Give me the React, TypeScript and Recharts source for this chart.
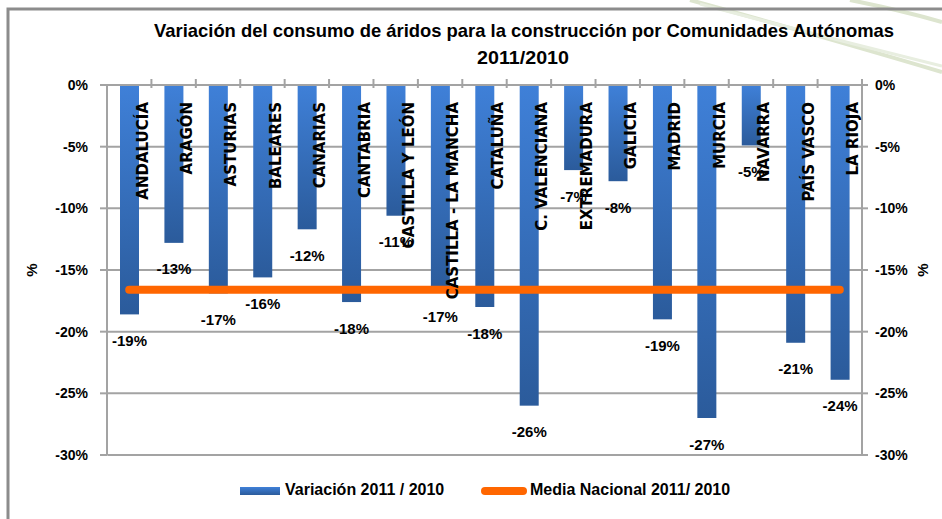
import { Bar, ComposedChart, LabelList, Line, XAxis, YAxis } from 'recharts';

const categories = [
  'ANDALUCÍA',
  'ARAGÓN',
  'ASTURIAS',
  'BALEARES',
  'CANARIAS',
  'CANTABRIA',
  'CASTILLA Y LEÓN',
  'CASTILLA - LA MANCHA',
  'CATALUÑA',
  'C. VALENCIANA',
  'EXTREMADURA',
  'GALICIA',
  'MADRID',
  'MURCIA',
  'NAVARRA',
  'PAÍS VASCO',
  'LA RIOJA',
];
const variacion = [-18.6, -12.8, -16.9, -15.6, -11.7, -17.6, -10.6, -16.7, -18.0, -26.0, -6.9, -7.8, -19.0, -27.0, -4.9, -20.9, -23.9];
const mediaNacional = [-16.6, -16.6, -16.6, -16.6, -16.6, -16.6, -16.6, -16.6, -16.6, -16.6, -16.6, -16.6, -16.6, -16.6, -16.6, -16.6, -16.6];
const yTicks = [0, -5, -10, -15, -20, -25, -30];

const data = categories.map((name, i) => ({
  name,
  variacion: variacion[i],
  media: mediaNacional[i],
}));

const FONT = '"Liberation Sans", Arial, sans-serif';
const GRID = '#a3a3a3';
const PLOT_W = 755;
const BAND = PLOT_W / categories.length;

function CategoryTick(props: any) {
  const { x, y, payload } = props;
  const half = payload && payload.offset ? payload.offset : BAND / 2;
  return (
    <line x1={x + half} y1={y - 6} x2={x + half} y2={y + 3} stroke={GRID} strokeWidth={2} />
  );
}

// bar shape; the first bar also lays the horizontal gridlines underneath all bars,
// placed with the bar's own value-to-pixel ratio
function BarShape(props: any) {
  const { x, y, width, height, fill, payload } = props;
  const top = Math.min(y, y + height);
  const bottom = Math.max(y, y + height);
  const isFirst = payload && payload.name === categories[0];
  let grid = null;
  if (isFirst && payload.variacion) {
    const perUnit = (bottom - top) / Math.abs(payload.variacion);
    const left = x + width / 2 - BAND / 2;
    grid = yTicks.map((t) => {
      const ly = top + Math.abs(t) * perUnit;
      return <line key={t} x1={left} y1={ly} x2={left + PLOT_W} y2={ly} stroke={GRID} strokeWidth={2} />;
    });
  }
  return (
    <g>
      {grid}
      <rect x={x} y={top} width={width} height={bottom - top} fill={fill} />
    </g>
  );
}

function NameLabel(props: any) {
  const { x, y, width, height, value } = props;
  const cx = x + width / 2;
  const top = Math.min(y, y + height);
  return (
    <text
      transform={`translate(${cx + 18},${top + 17}) rotate(-90)`}
      textAnchor="end"
      fontFamily='"DejaVu Sans", sans-serif'
      fontWeight="bold"
      fontSize={15}
      fill="#000"
    >
      {value}
    </text>
  );
}

function ValueLabel(props: any) {
  const { x, y, width, height, value } = props;
  const cx = x + width / 2;
  const bottom = Math.max(y, y + height);
  return (
    <text
      x={cx}
      y={bottom + 26}
      textAnchor="middle"
      dominantBaseline="central"
      fontFamily={FONT}
      fontWeight="bold"
      fontSize={15}
      fill="#000"
    >
      {Math.round(value)}%
    </text>
  );
}

function UnitLabel(props: any) {
  const { viewBox, dx } = props;
  const cx = viewBox.x + dx;
  const cy = viewBox.y + viewBox.height / 2;
  return (
    <text
      x={cx}
      y={cy}
      textAnchor="middle"
      dominantBaseline="central"
      transform={`rotate(-90 ${cx} ${cy})`}
      fontFamily={FONT}
      fontWeight="bold"
      fontSize={15}
      fill="#000"
    >
      %
    </text>
  );
}

function LegendBox() {
  return (
    <div
      style={{
        position: 'absolute',
        left: 0,
        top: 479,
        width: 942,
        height: 24,
        fontFamily: FONT,
        fontWeight: 'bold',
        fontSize: 16,
        color: '#000',
        pointerEvents: 'none',
      }}
    >
      <div
        style={{
          position: 'absolute',
          left: 240,
          top: 8,
          width: 40,
          height: 8,
          background: 'linear-gradient(#3f80d8, #2b5b9b)',
        }}
      />
      <span style={{ position: 'absolute', left: 285, top: 2 }}>Variación 2011 / 2010</span>
      <div
        style={{
          position: 'absolute',
          left: 481,
          top: 8,
          width: 46,
          height: 8,
          borderRadius: 4,
          background: '#ff6600',
        }}
      />
      <span style={{ position: 'absolute', left: 530, top: 2 }}>Media Nacional 2011/ 2010</span>
    </div>
  );
}

function App() {
  return (
    <div style={{ position: 'absolute', left: 0, top: 0, width: 942, height: 519, overflow: 'hidden' }}>
      <ComposedChart width={942} height={519} data={data} margin={{ top: 55, right: 0, bottom: 64, left: 0 }}>
        <XAxis
          dataKey="name"
          orientation="top"
          height={30}
          axisLine={{ stroke: GRID, strokeWidth: 2 }}
          tickLine={false}
          tickSize={0}
          tickMargin={0}
          tick={<CategoryTick />}
          interval={0}
        />
        <YAxis
          yAxisId="left"
          width={107}
          domain={[-30, 0]}
          ticks={yTicks}
          tickFormatter={(v: number) => `${v}%`}
          axisLine={{ stroke: GRID, strokeWidth: 2 }}
          tickLine={{ stroke: GRID, strokeWidth: 2 }}
          tickSize={7}
          tickMargin={12}
          tick={{ fill: '#000', fontFamily: FONT, fontWeight: 'bold', fontSize: 14 }}
          label={<UnitLabel dx={31} />}
        />
        <YAxis
          yAxisId="right"
          orientation="right"
          width={80}
          domain={[-30, 0]}
          ticks={yTicks}
          tickFormatter={(v: number) => `${v}%`}
          axisLine={{ stroke: GRID, strokeWidth: 2 }}
          tickLine={{ stroke: GRID, strokeWidth: 2 }}
          tickSize={6}
          tickMargin={7}
          tick={{ fill: '#000', fontFamily: FONT, fontWeight: 'bold', fontSize: 14 }}
          label={<UnitLabel dx={60} />}
        />
        <Bar
          yAxisId="left"
          dataKey="variacion"
          name="Variación 2011 / 2010"
          fill="url(#barFill)"
          barSize={19}
          shape={<BarShape />}
          isAnimationActive={false}
        >
          <LabelList dataKey="name" content={<NameLabel />} />
          <LabelList dataKey="variacion" content={<ValueLabel />} />
        </Bar>
        <Line
          yAxisId="right"
          type="linear"
          dataKey="media"
          name="Media Nacional 2011/ 2010"
          stroke="#ff6600"
          strokeWidth={8}
          strokeLinecap="round"
          dot={false}
          activeDot={false}
          isAnimationActive={false}
        />
      </ComposedChart>
      <svg width={942} height={519} style={{ position: 'absolute', left: 0, top: 0, pointerEvents: 'none' }}>
        <defs>
          <linearGradient id="barFill" x1="0" y1="0" x2="0" y2="1">
            <stop offset="0%" stopColor="#3f80d8" />
            <stop offset="100%" stopColor="#2b5b9b" />
          </linearGradient>
        </defs>
        <path d="M690,0 Q800,30 942,72" stroke="#dde5cf" strokeWidth={4} fill="none" />
        <path d="M700,4 Q820,36 942,66" stroke="#e8eee0" strokeWidth={3} fill="none" />
        <path d="M850,0 Q900,10 942,22" stroke="#dde5cf" strokeWidth={4} fill="none" />
        <path d="M8,519 L8,9 L942,9" stroke="#8c8c8c" strokeWidth={3} fill="none" />
        <text
          x={524}
          y={37}
          textAnchor="middle"
          textLength={740}
          lengthAdjust="spacingAndGlyphs"
          fontFamily={'"Liberation Sans Narrow", "Liberation Sans", Arial, sans-serif'}
          fontWeight="bold"
          fontSize={19}
          fill="#000"
        >
          Variación del consumo de áridos para la construcción por Comunidades Autónomas
        </text>
        <text
          x={523}
          y={64}
          textAnchor="middle"
          textLength={92}
          lengthAdjust="spacingAndGlyphs"
          fontFamily={'"Liberation Sans Narrow", "Liberation Sans", Arial, sans-serif'}
          fontWeight="bold"
          fontSize={19}
          fill="#000"
        >
          2011/2010
        </text>
      </svg>
      <LegendBox />
    </div>
  );
}

export default App;
